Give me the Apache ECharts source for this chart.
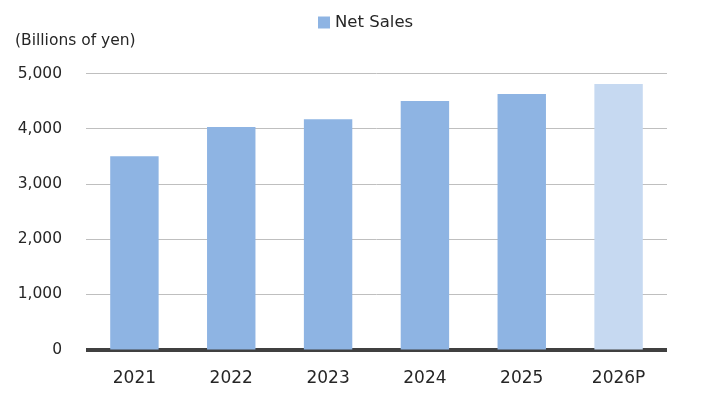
<!DOCTYPE html>
<html><head><meta charset="utf-8">
<script src="https://cdn.jsdelivr.net/npm/echarts@6/dist/echarts.min.js"></script>
<style>html,body{margin:0;padding:0;background:#fff}#c{width:719px;height:404px}</style>
</head><body><div id="c"></div>
<script>
const categories = ['2021','2022','2023','2024','2025','2026P'];
const netSales = [3500, 4030, 4170, 4500, 4630, 4810];
const projected = [false, false, false, false, false, true];
const yTicks = [0, 1000, 2000, 3000, 4000, 5000];

const font = '"DejaVu Sans", "Noto Sans", sans-serif';
const chart = echarts.init(document.getElementById('c'));
chart.setOption({
  animation: false,
  textStyle: { fontFamily: font },
  title: {
    text: '(Billions of yen)', left: 10, top: 28,
    textStyle: { fontSize: 15.5, fontWeight: 'normal', color: '#262626', fontFamily: font }
  },
  legend: {
    data: ['Net Sales'], top: 9, left: 313,
    itemWidth: 12, itemHeight: 12, itemGap: 7,
    icon: 'rect',
    textStyle: { fontSize: 16.5, color: '#262626', fontFamily: font }
  },
  grid: { left: 86, right: 52, top: 73.5, bottom: 54.5 },
  xAxis: {
    type: 'category', data: categories,
    axisLine: { lineStyle: { color: '#404040', width: 4, cap: 'butt' } },
    axisTick: { show: false },
    axisLabel: { fontSize: 17, color: '#262626', margin: 21, fontFamily: font }
  },
  yAxis: {
    type: 'value', min: yTicks[0], max: yTicks[yTicks.length - 1], interval: 1000,
    axisLine: { show: false }, axisTick: { show: false },
    splitLine: { lineStyle: { color: '#BFBFBF', width: 1 } },
    axisLabel: {
      fontSize: 15.5, color: '#262626', margin: 24, fontFamily: font,
      formatter: v => v.toLocaleString('en-US')
    }
  },
  series: [{
    name: 'Net Sales', type: 'bar', barWidth: '50%',
    itemStyle: { color: '#8EB4E3' },
    data: netSales.map((v, i) => projected[i] ? { value: v, itemStyle: { color: '#C6D9F1' } } : v)
  }]
});
</script></body></html>
